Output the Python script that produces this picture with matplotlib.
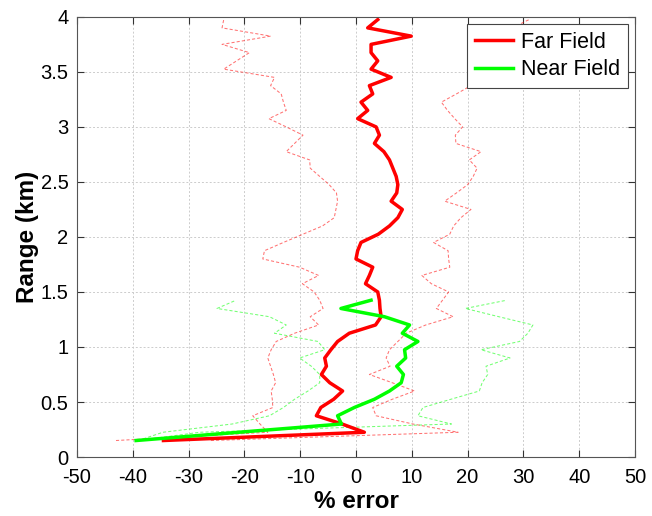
import matplotlib
matplotlib.use("Agg")
import matplotlib.pyplot as plt

plt.rcParams['font.family'] = ['Liberation Sans', 'DejaVu Sans']
plt.rcParams['axes.unicode_minus'] = False

# Range gates (km)
range_far = [0.15, 0.225, 0.3, 0.375, 0.45, 0.525, 0.6, 0.675, 0.75, 0.825,
             0.9, 0.975, 1.05, 1.125, 1.2, 1.275, 1.35, 1.425, 1.5, 1.575,
             1.65, 1.725, 1.8, 1.875, 1.95, 2.025, 2.1, 2.175, 2.25, 2.325,
             2.4, 2.475, 2.55, 2.625, 2.7, 2.775, 2.85, 2.925, 3.0, 3.075,
             3.15, 3.225, 3.3, 3.375, 3.45, 3.525, 3.6, 3.675, 3.75, 3.825,
             3.9, 3.975]
range_near = range_far[:18]

# Far field: mean error and bounds (%)
far_mean = [-34.5, 1.5, -2.5, -7.1, -6.3, -4.0, -2.4, -4.7, -6.2, -5.3,
            -5.6, -4.5, -3.3, -1.2, 3.5, 4.5, 4.3, 4.2, 3.9, 1.7,
            2.4, 3.0, 0.0, 0.3, 0.9, 4.0, 6.0, 7.5, 8.3, 6.3,
            7.3, 7.5, 7.2, 6.6, 6.0, 5.0, 3.3, 4.2, 3.6, 0.3,
            2.1, 0.9, 3.0, 2.4, 6.3, 2.7, 3.9, 2.7, 2.7, 9.9,
            2.1, 3.9]
far_low = [-43.0, -15.8, -17.2, -18.5, -14.9, -15.0, -15.2, -14.4, -14.8, -15.3,
           -15.8, -15.2, -14.3, -11.0, -6.7, -8.2, -5.9, -6.5, -7.5, -9.6,
           -6.7, -10.1, -16.7, -16.4, -13.0, -9.5, -6.0, -3.9, -3.6, -3.3,
           -3.5, -4.8, -6.5, -8.2, -8.3, -12.5, -11.0, -9.5, -12.5, -15.6,
           -12.5, -13.0, -13.4, -15.3, -14.6, -23.7, -21.4, -19.1, -24.0, -15.3,
           -24.0, -23.7]
far_high = [-26.0, 18.3, 10.2, 3.6, 3.0, 6.5, 10.5, 6.5, 2.4, 6.1,
            5.4, 6.0, 7.5, 9.0, 12.5, 17.4, 14.4, 15.5, 16.6, 13.5,
            11.8, 16.8, 16.6, 16.5, 13.9, 16.8, 17.5, 18.8, 20.6, 15.9,
            18.0, 20.0, 21.0, 21.7, 20.3, 22.4, 17.9, 17.8, 19.1, 17.7,
            16.4, 15.3, 18.0, 20.6, 22.0, 23.0, 25.0, 24.0, 27.0, 26.0,
            28.0, 31.0]

# Near field: mean error and bounds (%)
near_mean = [-39.4, -21.0, -2.6, -3.3, -0.3, 3.3, 6.0, 8.1, 8.5, 7.3,
             8.9, 8.7, 11.1, 8.3, 9.6, 5.1, -2.7, 2.7]
near_low = [-39.0, -34.6, -22.2, -15.5, -13.0, -11.0, -8.6, -6.5, -6.5, -8.0,
            -10.1, -5.6, -6.8, -14.6, -12.5, -15.5, -24.9, -21.5]
near_high = [-39.0, -28.0, 17.1, 11.1, 12.0, 17.0, 22.1, 22.6, 23.6, 23.3,
             27.6, 22.4, 29.3, 30.8, 31.7, 25.6, 19.6, 27.0]

xticks = [-50, -40, -30, -20, -10, 0, 10, 20, 30, 40, 50]
yticks = [0, 0.5, 1, 1.5, 2, 2.5, 3, 3.5, 4]
ytick_labels = ['0', '0.5', '1', '1.5', '2', '2.5', '3', '3.5', '4']

fig = plt.figure(figsize=(6.52, 5.16), dpi=100)
ax = fig.add_axes([0.118, 0.1143, 0.856, 0.853])

dash = (0, (3, 2))
ax.plot(far_low, range_far, color='red', lw=0.75, ls=dash, alpha=0.55)
ax.plot(far_high, range_far, color='red', lw=0.75, ls=dash, alpha=0.55)
ax.plot(near_low, range_near, color=(0, 1, 0), lw=0.75, ls=dash, alpha=0.55)
ax.plot(near_high, range_near, color=(0, 1, 0), lw=0.75, ls=dash, alpha=0.55)

ax.plot(far_mean, range_far, color='red', lw=2.5, label='Far Field')
ax.plot(near_mean, range_near, color=(0, 1, 0), lw=2.5, label='Near Field')

ax.set_xlim(-50, 50)
ax.set_ylim(0, 4)
ax.set_xticks(xticks)
ax.set_yticks(yticks)
ax.set_yticklabels(ytick_labels)
ax.tick_params(direction='in', top=True, right=True, labelsize=14.5,
               length=5, width=0.8, color='#333333')
ax.tick_params(axis='x', pad=8)
ax.tick_params(axis='y', pad=6)
ax.grid(True, ls=(0, (2, 2)), color='#cccccc', lw=0.7)
for s in ax.spines.values():
    s.set_color('#555555')
    s.set_linewidth(0.8)

ax.set_xlabel('% error', fontsize=17.5, fontweight='bold', labelpad=2)
ax.set_ylabel('Range (km)', fontsize=17.5, fontweight='bold', labelpad=1)

leg = ax.legend(loc='upper right', fontsize=15.5, fancybox=False, framealpha=1,
                edgecolor='#444444', borderaxespad=0.35, handlelength=1.8,
                handletextpad=0.35, borderpad=0.35, labelspacing=0.3)
leg.get_frame().set_linewidth(0.8)

fig.savefig('out.png', dpi=100)
